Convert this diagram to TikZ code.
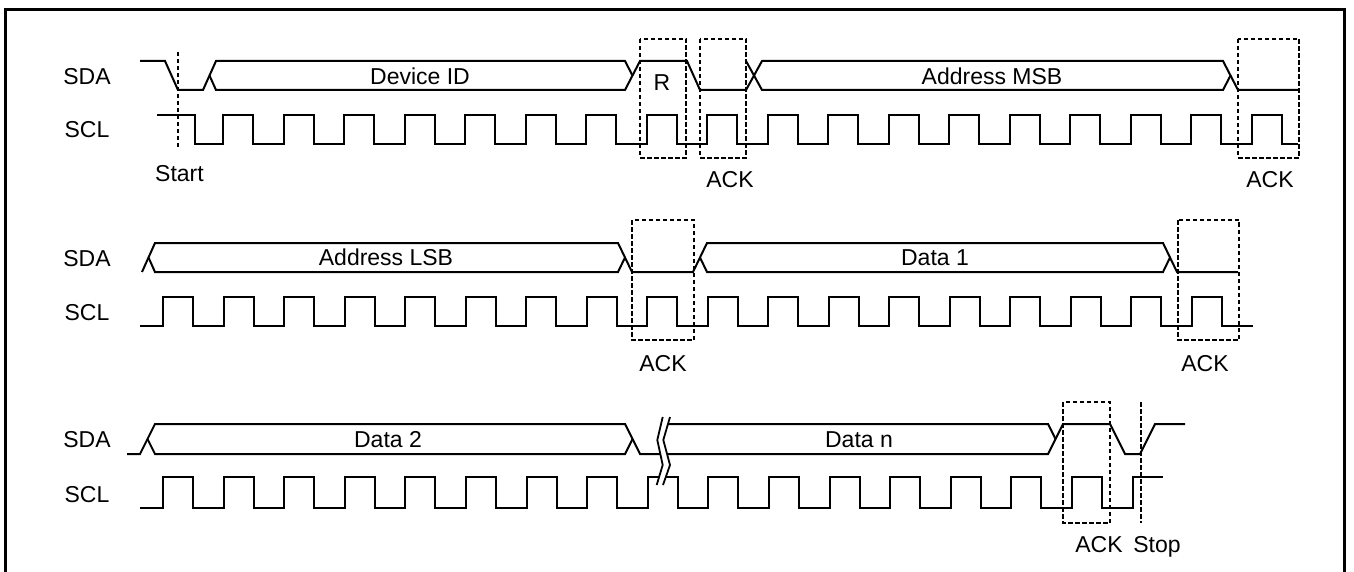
\documentclass[tikz,border=0pt]{standalone}
\usepackage{fontspec}
\setmainfont{Liberation Sans}
\usetikzlibrary{positioning, calc}
\tikzset{
    sigline/.style={
        line width=2pt, line join=miter, black
    },
    sigtext/.style={
        font=\fontsize{23}{27}\selectfont, inner sep=0pt, anchor=base
    },
    markline/.style={
        line width=1.6pt, dash pattern=on 4.5pt off 2.5pt
    }
}

\begin{document}
\begin{tikzpicture}[x=1pt, y=-1pt,
            % Style for the dashed R / ACK boxes
            bitbox/.style={
                markline
            },
            % Style for the break mark on row 3
            breakmark/.style={
                line width=1.8pt
            }
        ]
            \useasboundingbox (0,0) rectangle (1354,572);

            % --- 0. FRAME ---
            \draw[line width=3.5pt] (5.5,572) -- (5.5,9.5) -- (1344.5,9.5) -- (1344.5,572);

            % --- 1. ROW 1: DEVICE ID, R, ADDRESS MSB ---
            \node[sigtext] (sda1) at (87,84.5) {SDA};
            \node[sigtext] (scl1) at (87,138) {SCL};

            \draw[sigline] (140,61) -- (165,61) -- (178,90) -- (203,90) -- (216,61) -- (625,61) -- (632.5,75.5);
            \draw[sigline] (209.5,75.5) -- (216,90) -- (625,90) -- (640,61) -- (687,61) -- (700,90) -- (746,90)
                -- (762,61) -- (1223,61) -- (1238,90) -- (1298,90);
            \draw[sigline] (746,61) -- (762,90) -- (1223,90) -- (1230.5,75.5);

            \draw[sigline] (157,115) -- (195,115) -- (195,144)
                foreach \k in {0,...,17} { -- ({223+60.53*\k},144) -- ++(0,-29) -- ++(30,0) -- ++(0,29) }
                -- (1298,144);

            \node[sigtext] (devid) at (420,84.5) {Device ID};
            \node[sigtext] (rbit) at (662,91) {R};
            \node[sigtext] (addrmsb) at (992,84.5) {Address MSB};

            \draw[markline] (178,52) -- (178,150);
            \node[sigtext] (start) at (179.5,182) {Start};

            \draw[bitbox] (640,39) rectangle (686,158);
            \draw[bitbox] (700,39) rectangle (746,158);
            \draw[bitbox] (1238,39) rectangle (1299,158);
            \node[sigtext] (ack1) at (730,188) {ACK};
            \node[sigtext] (ack2) at (1270,188) {ACK};

            % --- 2. ROW 2: ADDRESS LSB, DATA 1 ---
            \node[sigtext] (sda2) at (87,266.5) {SDA};
            \node[sigtext] (scl2) at (87,320) {SCL};

            \draw[sigline] (142,272) -- (155,243) -- (618,243) -- (632,272) -- (693,272) -- (707,243)
                -- (1163,243) -- (1177,272) -- (1238,272);
            \draw[sigline] (148.5,257.5) -- (155,272) -- (618,272) -- (625,257.5);
            \draw[sigline] (700,257.5) -- (707,272) -- (1163,272) -- (1170,257.5);

            \draw[sigline] (140,326)
                foreach \k in {0,...,17} { -- ({163+60.53*\k},326) -- ++(0,-29) -- ++(30,0) -- ++(0,29) }
                -- (1253,326);

            \node[sigtext] (addrlsb) at (386,265.5) {Address LSB};
            \node[sigtext] (data1) at (935,265.5) {Data 1};

            \draw[bitbox] (632,220) rectangle (694,340);
            \draw[bitbox] (1178,220) rectangle (1239,340);
            \node[sigtext] (ack3) at (663,371) {ACK};
            \node[sigtext] (ack4) at (1205,371) {ACK};

            % --- 3. ROW 3: DATA 2 ... DATA n, STOP ---
            \node[sigtext] (sda3) at (87,447) {SDA};
            \node[sigtext] (scl3) at (87,502) {SCL};

            \draw[sigline] (127,454) -- (140,454) -- (155,424) -- (625,424) -- (640,454) -- (1048,454)
                -- (1063,424) -- (1110,424) -- (1125,454) -- (1140,454) -- (1155,424) -- (1185,424);
            \draw[sigline] (147.5,439) -- (155,454) -- (625,454) -- (632.5,439);
            \draw[sigline] (668,424) -- (1048,424) -- (1055.5,439);

            \draw[sigline] (140,508)
                foreach \k in {0,...,15} { -- ({163+60.6*\k},508) -- ++(0,-31) -- ++(30,0) -- ++(0,31) }
                -- (1133,508) -- (1133,477) -- (1163,477);

            % break mark
            \fill[white] (662.7,417) -- (657.3,440) -- (662.7,465) -- (656.7,485)
                -- (663,485) -- (670,465) -- (663.3,440) -- (670,417) -- cycle;
            \draw[breakmark] (662.7,417) -- (657.3,440) -- (662.7,465) -- (656.7,485);
            \draw[breakmark] (670,417) -- (663.3,440) -- (670,465) -- (663,485);

            \node[sigtext] (data2) at (388,447) {Data 2};
            \node[sigtext] (datan) at (859,447) {Data n};

            \draw[bitbox] (1063,402) rectangle (1110,523);
            \draw[markline] (1141,402) -- (1141,523);
            \node[sigtext] (ack5) at (1099,552) {ACK};
            \node[sigtext] (stop) at (1157,552) {Stop};

        \end{tikzpicture}
\end{document}
